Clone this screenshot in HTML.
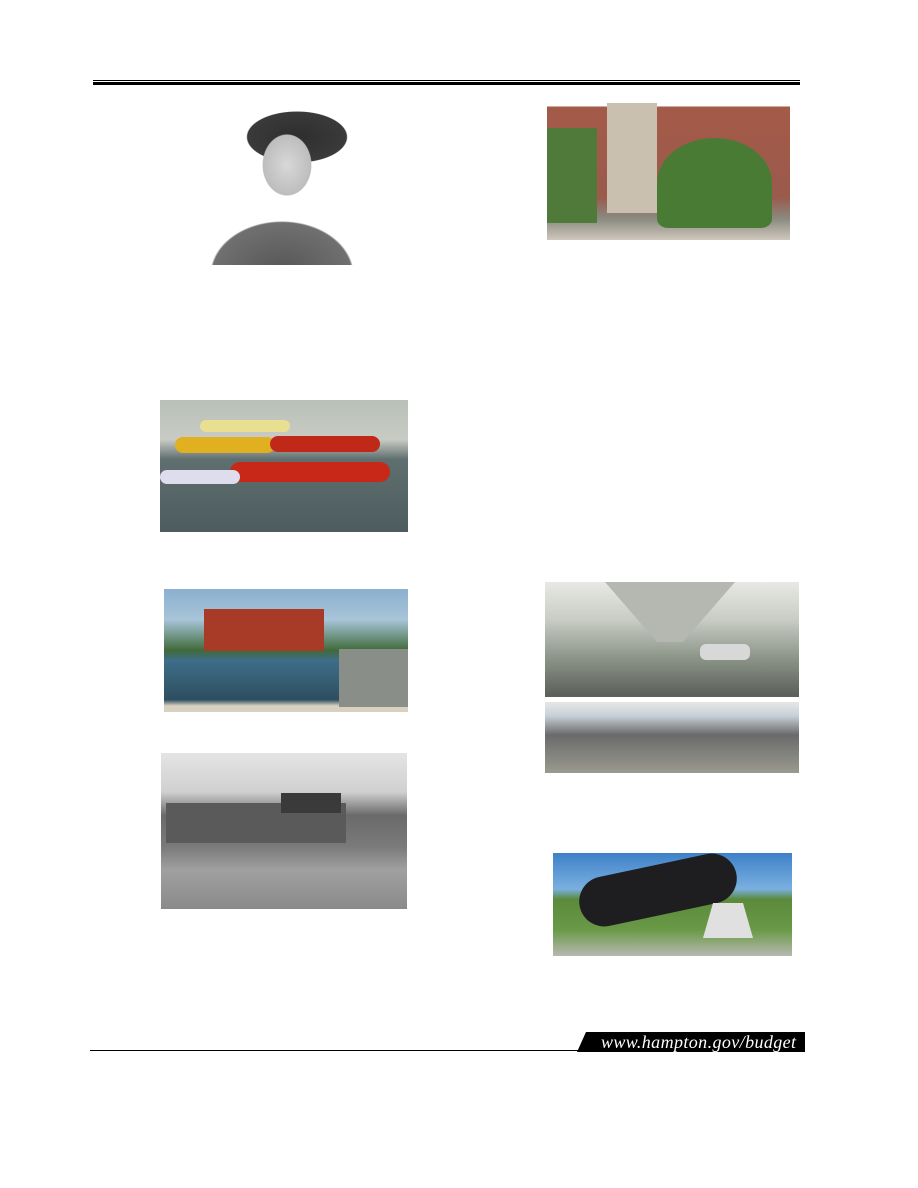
<!DOCTYPE html>
<html><head><meta charset="utf-8"><style>
body{margin:0;background:#fff;}
#page{position:relative;width:918px;height:1188px;background:#fff;overflow:hidden;font-family:"Liberation Serif",serif;}
.abs{position:absolute;}
</style></head><body>
<div id="page">
<div class="abs" style="left:93px;top:80px;width:707px;height:1px;background:#000"></div>
<div class="abs" style="left:93px;top:82px;width:707px;height:3px;background:#000"></div>

<div class="abs" style="left:187px;top:105px;width:195px;height:160px;background:radial-gradient(ellipse 40px 50px at 100px 60px,#d8d8d8 0,#bdbdbd 60%,transparent 62%),radial-gradient(ellipse 55px 28px at 110px 32px,#2e2e2e 0,#3a3a3a 90%,transparent 92%),radial-gradient(ellipse 100px 75px at 95px 170px,#555 0,#707070 70%,transparent 72%);"></div>

<div class="abs" style="left:547px;top:98px;width:243px;height:142px;background:linear-gradient(180deg,#fff 0,#fff 6%,#a55a48 6%,#9a5a4c 70%,#8a8a80 85%,#cfc7bc 100%);">
<div class="abs" style="left:0;top:30px;width:50px;height:95px;background:#4f7a3a"></div>
<div class="abs" style="left:110px;top:40px;width:115px;height:90px;background:#4a7b35;border-radius:50% 50% 10% 10%"></div>
<div class="abs" style="left:60px;top:5px;width:50px;height:110px;background:#c9c0b0"></div>
</div>

<div class="abs" style="left:160px;top:400px;width:248px;height:132px;background:linear-gradient(180deg,#b8c0b8 0,#c8cbc4 30%,#5f6e6e 45%,#4d5c5f 100%);">
<div class="abs" style="left:40px;top:20px;width:90px;height:12px;background:#e8e090;border-radius:6px"></div>
<div class="abs" style="left:15px;top:37px;width:100px;height:16px;background:#e0b020;border-radius:8px"></div>
<div class="abs" style="left:110px;top:36px;width:110px;height:16px;background:#c02818;border-radius:8px"></div>
<div class="abs" style="left:70px;top:62px;width:160px;height:20px;background:#c82818;border-radius:10px"></div>
<div class="abs" style="left:0;top:70px;width:80px;height:14px;background:#dde;border-radius:7px"></div>
</div>

<div class="abs" style="left:164px;top:589px;width:244px;height:123px;background:linear-gradient(180deg,#8ab0d0 0,#a8c4d8 25%,#3f6a3a 50%,#3e6e88 58%,#2e4e60 90%,#d8d0c0 95%);">
<div class="abs" style="left:40px;top:20px;width:120px;height:42px;background:#a83a28"></div>
<div class="abs" style="left:175px;top:60px;width:69px;height:58px;background:#8a8e88"></div>
</div>

<div class="abs" style="left:545px;top:582px;width:254px;height:191px;background:linear-gradient(180deg,#e8e8e4 0,#c8ccc4 20%,#8c9488 40%,#5a5e58 60%,#e8eae8 62%,#c8d0d8 70%,#6a6a6a 80%,#9a9a90 100%);">
<div class="abs" style="left:60px;top:0;width:130px;height:60px;background:#b4b8b0;clip-path:polygon(0 0,100% 0,60% 100%,40% 100%)"></div>
<div class="abs" style="left:155px;top:62px;width:50px;height:16px;background:#d8d8d8;border-radius:6px"></div>
<div class="abs" style="left:0;top:115px;width:254px;height:5px;background:#fff"></div>
</div>

<div class="abs" style="left:161px;top:753px;width:246px;height:156px;background:linear-gradient(180deg,#e4e4e4 0,#d0d0d0 25%,#6a6a6a 40%,#7a7a7a 60%,#a0a0a0 75%,#8a8a8a 100%);">
<div class="abs" style="left:5px;top:50px;width:180px;height:40px;background:#5a5a5a"></div>
<div class="abs" style="left:120px;top:40px;width:60px;height:20px;background:#3a3a3a"></div>
</div>

<div class="abs" style="left:553px;top:853px;width:239px;height:103px;background:linear-gradient(180deg,#3e80c8 0,#7ab0e0 35%,#5a8a3a 45%,#6a9a48 75%,#b8b8b0 100%);">
<div class="abs" style="left:25px;top:12px;width:160px;height:50px;background:#1e1e20;border-radius:25px;transform:rotate(-12deg)"></div>
<div class="abs" style="left:150px;top:50px;width:50px;height:35px;background:#e0e0e0;clip-path:polygon(20% 0,80% 0,100% 100%,0 100%)"></div>
</div>

<div class="abs" style="left:90px;top:1050px;width:500px;height:1px;background:#000"></div>
<div class="abs" style="left:577px;top:1032px;width:228px;height:20px;background:#000;clip-path:polygon(9px 0,100% 0,100% 100%,0 100%)"></div>
<div class="abs" style="left:601px;top:1032px;font-style:italic;color:#fff;font-size:18px;line-height:20px;letter-spacing:0.4px">www.hampton.gov/budget</div>
</div>
</body></html>
